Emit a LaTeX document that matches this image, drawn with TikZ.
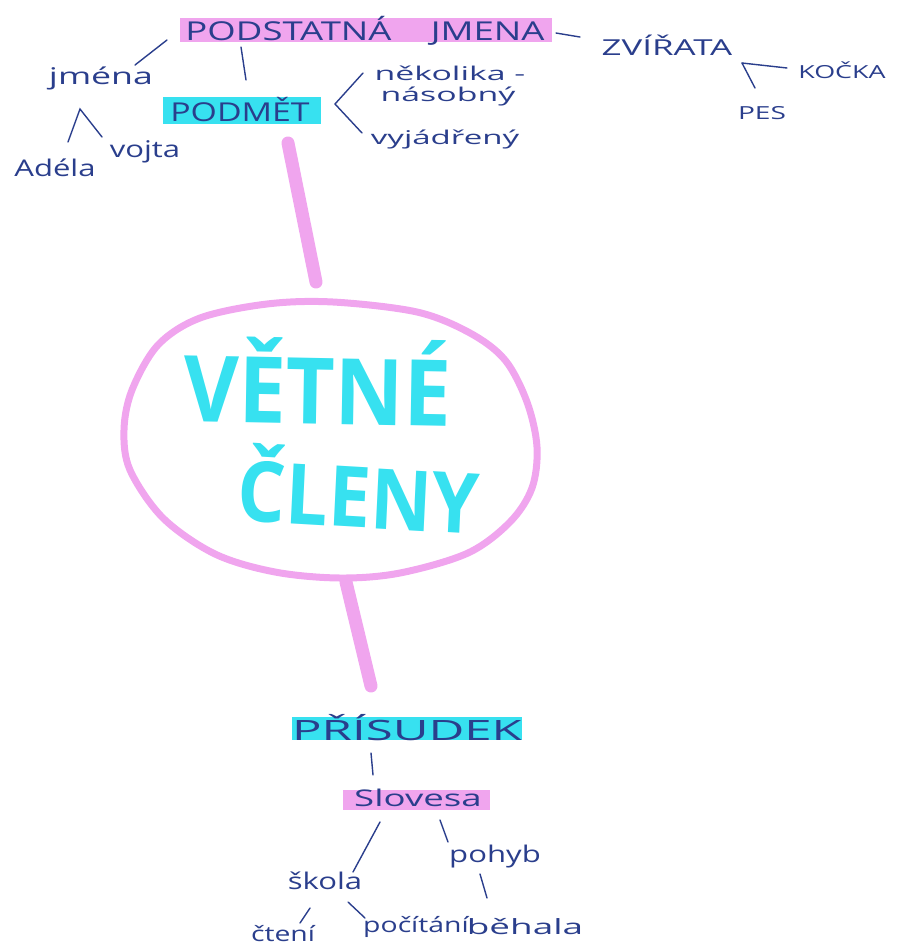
\documentclass[tikz,border=0pt]{standalone}
\usepackage{fontspec}
\setmainfont{Open Sans}
\usetikzlibrary{calc,shapes.geometric}
\definecolor{ink}{RGB}{42,62,140}
\definecolor{pinkhl}{RGB}{240,165,238}
\definecolor{cyanhl}{RGB}{55,225,240}
\tikzset{
  word/.style={text=ink, inner sep=0pt, xscale=1.35, font=\fontsize{23}{25}\selectfont},
  smallword/.style={word, font=\fontsize{19}{21}\selectfont, xscale=1.65},
  capsword/.style={text=ink, inner sep=0pt, xscale=1.3, font=\fontsize{26}{28}\selectfont},
  hlpink/.style={fill=pinkhl, inner sep=0pt},
  hlcyan/.style={fill=cyanhl, inner sep=0pt},
  link/.style={draw=ink, line width=1.4pt, line cap=round},
  marker/.style={draw=pinkhl, line width=13pt, line cap=round},
  rim/.style={draw=pinkhl, line width=7pt, line join=round},
  bigword/.style={text=cyanhl, inner sep=0pt, font=\bfseries\fontsize{92}{96}\selectfont},
}
\begin{document}
\begin{tikzpicture}[x=1pt, y=-1pt]
\useasboundingbox (0,0) rectangle (897,948);

% highlighter bars
\node[hlpink, minimum width=372pt, minimum height=24pt] (bar1) at (366,30) {};
\node[hlcyan, minimum width=158pt, minimum height=27pt] (bar2) at (242,110) {};
\node[hlcyan, minimum width=230pt, minimum height=23pt] (bar3) at (407,728) {};
\node[hlpink, minimum width=147pt, minimum height=20pt] (bar4) at (416,800) {};

% labels
\node[capsword, xscale=1.08] (podst) at (365,31) {PODSTATNÁ\hspace{28pt}JMENA};
\node[capsword] (podmet) at (240,110) {PODMĚT};
\node[capsword, xscale=1.35, font=\fontsize{28}{30}\selectfont] (prisudek) at (407,728) {PŘÍSUDEK};
\node[word, xscale=1.18] (slovesa) at (418,798) {Slovesa};
\node[capsword, xscale=1.22, font=\fontsize{22}{24}\selectfont] (zvirata) at (667,45) {ZVÍŘATA};
\node[capsword, xscale=1.15, font=\fontsize{18}{20}\selectfont] (kocka) at (842,70) {KOČKA};
\node[capsword, xscale=1.2, font=\fontsize{18}{20}\selectfont] (pes) at (762,113) {PES};
\node[word, xscale=1.15] (jmena) at (101,78) {jména};
\node[word] (adela) at (55,168) {Adéla};
\node[word] (vojta) at (145,152) {vojta};
\node[smallword, xscale=0.8] (nekolika) at (450,73) {několika -};
\node[smallword, xscale=0.8] (nasobny) at (448,97) {násobný};
\node[smallword, xscale=0.78] (vyjadreny) at (445,140) {vyjádřený};
\node[word] (pohyb) at (495,857) {pohyb};
\node[word] (skola) at (325,881) {škola};
\node[word, font=\fontsize{21}{23}\selectfont] (cteni) at (283,934) {čtení};
\node[word, font=\fontsize{21}{23}\selectfont] (pocitani) at (416,927) {počítání};
\node[word, xscale=1.3, font=\fontsize{21}{23}\selectfont] (behala) at (525,927) {běhala};

% the central bubble
\node[ellipse, minimum width=424pt, minimum height=278pt] (clen) at (332,440) {};
\draw[rim] plot[smooth cycle, tension=0.55] coordinates {
  (333,302) (417,312) (470,333) (505,360) (527,402) (537,447) (532,488)
  (510,522) (468,553) (400,573) (340,578) (275,572) (215,554) (163,518)
  (130,470) (124,430) (132,390) (158,345) (200,318) (267,304)};
\node[bigword, xscale=0.92, rotate=-1] (vetne) at (318,381) {VĚTNÉ};
\node[bigword, xscale=0.9, rotate=-3, font=\bfseries\fontsize{84}{88}\selectfont] (cleny) at (359,489) {ČLENY};

% connector end points
\coordinate (p1) at (288,143);
\coordinate (p2) at (316,282);
\coordinate (p3) at (346,582);
\coordinate (p4) at (371,686);
\coordinate (jx) at (742,63);

% marker connectors to and from the bubble
\draw[marker] (p1) -- (p2);
\draw[marker] (p3) -- (p4);

% ink connectors
\draw[link] (135,65) -- (167,40);            % jména - podstatná jména
\draw[link] (241,47) -- (246,80);            % podstatná jména - podmět
\draw[link] (556,33) -- (580,37);            % podstatná jména - zvířata
\draw[link] (jx) -- (755,88);                % pes
\draw[link] (jx) -- (787,68);                % kočka
\draw[link] (68,142) -- (80,109) -- (102,137); % Adéla, vojta
\draw[link] (363,73) -- (335,104) -- (362,133); % několikanásobný, vyjádřený
\draw[link] (371,753) -- (373,775);          % přísudek - slovesa
\draw[link] (380,822) -- (353,872);          % slovesa - škola
\draw[link] (440,820) -- (448,842);          % slovesa - pohyb
\draw[link] (480,874) -- (487,898);          % pohyb - běhala
\draw[link] (310,908) -- (300,923);          % škola - čtení
\draw[link] (348,902) -- (365,918);          % škola - počítání
\end{tikzpicture}
\end{document}
